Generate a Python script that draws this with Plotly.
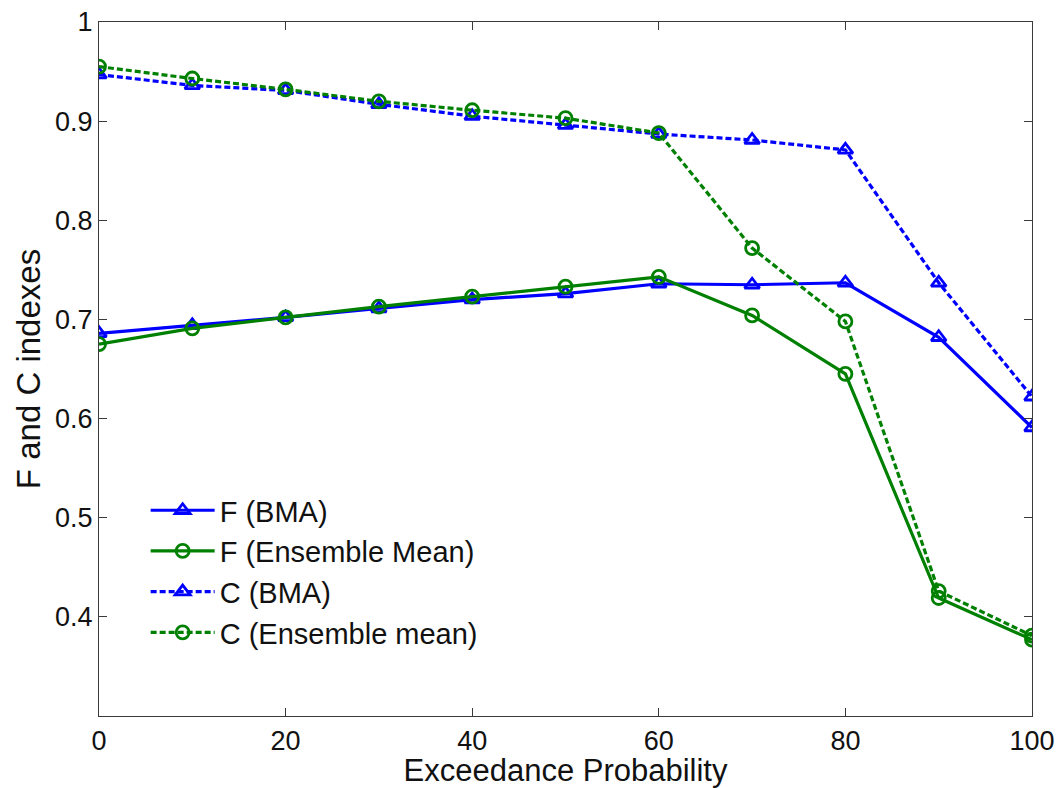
import plotly.graph_objects as go

x_vals = [0, 10, 20, 30, 40, 50, 60, 70, 80, 90, 100]

f_bma = [0.686, 0.694, 0.702, 0.711, 0.720, 0.726, 0.736, 0.735, 0.737, 0.682, 0.591]
f_ens = [0.675, 0.691, 0.702, 0.713, 0.723, 0.733, 0.743, 0.704, 0.645, 0.419, 0.377]
c_bma = [0.947, 0.936, 0.931, 0.917, 0.905, 0.896, 0.887, 0.881, 0.871, 0.737, 0.622]
c_ens = [0.955, 0.943, 0.932, 0.920, 0.911, 0.903, 0.888, 0.772, 0.698, 0.426, 0.381]

names = ["F (BMA)", "F (Ensemble Mean)", "C (BMA)", "C (Ensemble mean)"]

x_ticks = [0, 20, 40, 60, 80, 100]
y_ticks = [0.4, 0.5, 0.6, 0.7, 0.8, 0.9, 1.0]
y_ticktext = ["0.4", "0.5", "0.6", "0.7", "0.8", "0.9", "1"]

BLUE = "#0000FF"
GREEN = "#008000"

series = [
    (f_bma, names[0], BLUE, "solid", "triangle-up-open", 13),
    (f_ens, names[1], GREEN, "solid", "circle-open", 13),
    (c_bma, names[2], BLUE, "6px,3px", "triangle-up-open", 13),
    (c_ens, names[3], GREEN, "6px,3px", "circle-open", 13),
]

fig = go.Figure()
for i, (vals, name, color, dash, sym, size) in enumerate(series):
    fig.add_trace(go.Scatter(
        x=x_vals, y=vals, name=name, mode="lines+markers",
        line=dict(color=color, width=3.2, dash=dash),
        marker=dict(symbol=sym, size=size, color=color,
                    line=dict(color=color, width=2.8)),
    ))

axis_common = dict(
    showline=True, mirror="ticks", linecolor="#3a3a3a", linewidth=1.3,
    ticks="inside", ticklen=8, tickwidth=1.3, tickcolor="#3a3a3a",
    showgrid=False, zeroline=False, automargin=False,
    tickfont=dict(family="Liberation Sans, Arial", size=27, color="#111111"),
)

fig.update_layout(
    width=1056, height=788,
    paper_bgcolor="white", plot_bgcolor="white",
    margin=dict(l=99, r=24, t=22, b=72),
    font=dict(family="Liberation Sans, Arial", color="#111111"),
    xaxis=dict(range=[0, 100], tickvals=x_ticks,
               title=dict(text="Exceedance Probability", standoff=6,
                          font=dict(size=31)),
               **axis_common),
    yaxis=dict(range=[0.3, 1.0], tickvals=y_ticks, ticktext=y_ticktext,
               title=dict(text="F and C indexes", standoff=4,
                          font=dict(size=33)),
               **axis_common),
    legend=dict(x=0.05, y=0.333, xanchor="left", yanchor="top",
                bgcolor="rgba(0,0,0,0)", borderwidth=0,
                font=dict(size=29, color="#111111"),
                itemwidth=64),
    showlegend=True,
)

fig.write_html(
    "out.html",
    config={"displayModeBar": False},
    post_script="document.body.style.margin='0';document.body.style.overflow='hidden';",
)
